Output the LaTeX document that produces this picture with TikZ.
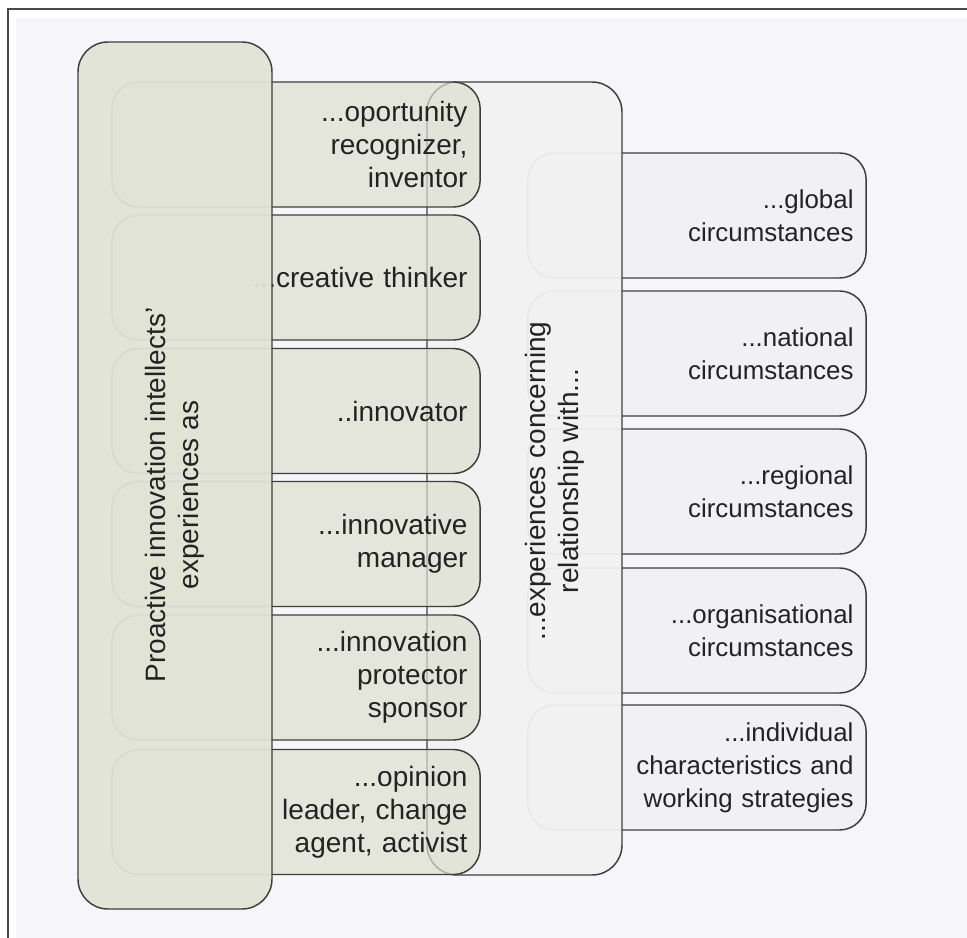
\documentclass[tikz,border=0pt]{standalone}
\usepackage{fontspec}
\setmainfont{Liberation Sans}
\definecolor{pagebg}{RGB}{246,246,250}
\definecolor{framec}{RGB}{72,72,72}
\definecolor{edge}{RGB}{62,62,62}
\definecolor{txt}{RGB}{35,35,35}
\definecolor{leftfill}{RGB}{221,223,207}
\definecolor{bigfill}{RGB}{225,227,213}
\definecolor{midfill}{RGB}{242,242,242}
\definecolor{rightfill}{RGB}{241,241,245}
\begin{document}
\begin{tikzpicture}[x=0.75pt,y=-0.75pt,
  font=\fontsize{21}{24.75}\selectfont,
  item/.style={draw=edge, line width=1.1pt, rounded corners=20pt,
    minimum height=93.75pt, inner xsep=9.5pt, inner ysep=0pt,
    align=right, text=txt, text opacity=1},
  leftitem/.style={item, fill=leftfill, fill opacity=0.7,
    minimum width=276pt, text width=257.25pt},
  rightitem/.style={item, fill=rightfill,
    font=\fontsize{19.4}{24.75}\selectfont,
    minimum width=253.5pt, text width=234.75pt},
  column/.style={draw=edge, line width=1.1pt, rounded corners=22.5pt,
    inner sep=0pt},
  vlabel/.style={rotate=90, align=center, inner sep=0pt, text=txt}]

% page, frame
\useasboundingbox (0,0) rectangle (967,938);
\fill[white] (0,0) rectangle (967,938);
\fill[pagebg] (16,18) rectangle (967,938);
\draw[framec, line width=1.6pt] (967,9) -- (8,9) -- (8,938);

% right column: circumstances
\node[rightitem] (r1) at (697,215.5) {...global\\circumstances};
\node[rightitem] (r2) at (697,353.5) {...national\\circumstances};
\node[rightitem] (r3) at (697,491.5) {...regional\\circumstances};
\node[rightitem] (r4) at (697,630.5) {...organisational\\circumstances};
\node[rightitem] (r5) at (697,767.5) {...individual\\characteristics and\\working strategies};

% middle column
\node[column, fill=midfill, fill opacity=0.94,
  minimum width=146.25pt, minimum height=594.75pt] (mid) at (524.5,478.5) {};
\node[vlabel] (midlabel) at (555,481) {...experiences concerning\\relationship with...};

% left column: roles
\node[leftitem] (l1) at (296,144.5) {...oportunity\\recognizer,\\inventor};
\node[leftitem] (l2) at (296,277.5) {...creative thinker};
\node[leftitem] (l3) at (296,411) {..innovator};
\node[leftitem] (l4) at (296,544) {...innovative\\manager};
\node[leftitem] (l5) at (296,677.5) {...innovation\\protector\\sponsor};
\node[leftitem] (l6) at (296,812) {...opinion\\leader, change\\agent, activist};

% main column
\node[column, fill=bigfill, fill opacity=0.94,
  minimum width=145.5pt, minimum height=650.25pt] (big) at (175,475.5) {};
\node[vlabel] (biglabel) at (175,495) {Proactive innovation intellects'\\experiences as};

\end{tikzpicture}
\end{document}
